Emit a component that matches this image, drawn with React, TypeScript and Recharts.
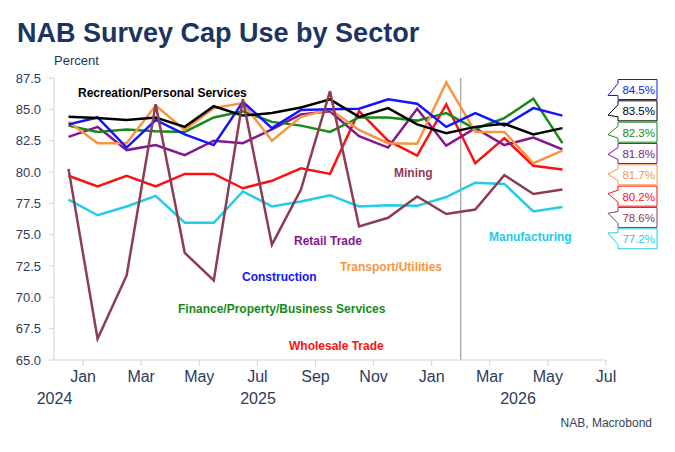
import React from 'react';
import { LineChart, Line, XAxis, YAxis, ReferenceLine } from 'recharts';

// monthly survey periods, plotted at mid-month
const periods = [
  '2024-12', '2025-01', '2025-02', '2025-03', '2025-04', '2025-05', '2025-06', '2025-07', '2025-08',
  '2025-09', '2025-10', '2025-11', '2025-12', '2026-01', '2026-02', '2026-03', '2026-04', '2026-05'
];

const recreation = [84.4, 84.3, 84.15, 84.35, 83.6, 85.25, 84.5, 84.7, 85.15, 85.8, 84.4, 85.1, 83.8, 83.1, 83.6, 83.85, 83.0, 83.5];
const construction = [83.8, 84.35, 81.95, 84.15, 83.0, 82.15, 85.6, 83.5, 84.95, 85.0, 85.05, 85.8, 85.45, 83.6, 84.7, 83.7, 85.1, 84.5];
const transport = [84.0, 82.3, 82.3, 85.3, 83.35, 85.1, 85.5, 82.5, 84.4, 85.0, 83.35, 82.3, 82.25, 87.15, 83.2, 83.2, 80.7, 81.7];
const finance = [83.7, 83.2, 83.4, 83.25, 83.2, 84.35, 84.85, 84.0, 83.7, 83.2, 84.35, 84.35, 84.1, 84.7, 83.45, 84.3, 85.85, 82.3];
const retail = [82.8, 83.6, 81.75, 82.15, 81.35, 82.5, 82.3, 83.4, 84.6, 84.85, 82.85, 81.95, 85.05, 82.1, 83.5, 82.15, 82.75, 81.8];
const wholesale = [79.7, 78.85, 79.7, 78.85, 79.85, 79.85, 78.7, 79.3, 80.3, 79.85, 84.85, 82.5, 81.3, 85.4, 80.7, 82.7, 80.5, 80.2];
const manufacturing = [77.8, 76.55, 77.25, 78.1, 75.95, 75.95, 78.45, 77.25, 77.65, 78.15, 77.25, 77.35, 77.3, 78.0, 79.15, 79.05, 76.85, 77.2];
const mining = [80.25, 66.7, 71.75, 85.4, 73.55, 71.35, 85.8, 74.2, 78.6, 86.45, 75.65, 76.35, 78.05, 76.65, 77.0, 79.75, 78.25, 78.6];

const xTicks = [1, 3, 5, 7, 9, 11, 13, 15, 17, 19];
const xTickLabels = ['Jan', 'Mar', 'May', 'Jul', 'Sep', 'Nov', 'Jan', 'Mar', 'May', 'Jul'];
const yTicks = [65, 67.5, 70, 72.5, 75, 77.5, 80, 82.5, 85, 87.5];

const FONT = '"Liberation Sans", Arial, sans-serif';
const NAVY = '#1c3461';

const series = [
  { key: 'manufacturing', name: 'Manufacturing', values: manufacturing, color: '#22cbe8', lx: 489, ly: 241 },
  { key: 'wholesale', name: 'Wholesale Trade', values: wholesale, color: '#ff1010', lx: 289, ly: 350 },
  { key: 'retail', name: 'Retail Trade', values: retail, color: '#85168f', lx: 294, ly: 245 },
  { key: 'finance', name: 'Finance/Property/Business Services', values: finance, color: '#178a17', lx: 178, ly: 313 },
  { key: 'transport', name: 'Transport/Utilities', values: transport, color: '#f7963f', lx: 340, ly: 271 },
  { key: 'construction', name: 'Construction', values: construction, color: '#1414ff', lx: 242, ly: 281 },
  { key: 'recreation', name: 'Recreation/Personal Services', values: recreation, color: '#000000', lx: 78, ly: 97 },
  { key: 'mining', name: 'Mining', values: mining, color: '#8c3c54', lx: 394, ly: 177 },
];

// month offset from the start of Dec 2024, mid-month
const toX = (p: string) => {
  const [y, m] = p.split('-').map(Number);
  return (y - 2024) * 12 + (m - 12) + 0.5;
};

const data = periods.map((p, i) => {
  const row: Record<string, number> = { x: toX(p) };
  series.forEach((s) => { row[s.key] = s.values[i]; });
  return row;
});

const lastTags = series
  .map((s) => ({ color: s.color, value: s.values[s.values.length - 1] }))
  .sort((a, b) => b.value - a.value);

const ValueTag = ({ top, color, value, idx }: { top: number; color: string; value: number; idx: number }) => {
  const left = 618;
  const right = 657;
  const h = 20;
  const tip = 16 - idx * 1.7;
  const d = `M${left},${top} L${right},${top} L${right},${top + h} L${left},${top + h} L${left},${top + 16} L${left - 10},${top + tip} L${left},${top + 4} Z`;
  return (
    <g>
      <path d={d} fill="#fff" stroke={color} strokeWidth={1} />
      <text x={right - 2} y={top + 14.5} textAnchor="end" fontSize={11.5} fill={color} fontFamily={FONT}>
        {value.toFixed(1)}%
      </text>
    </g>
  );
};

export default function App() {
  return (
    <div style={{ position: 'absolute', left: 0, top: 0, width: 675, height: 452, background: '#fff', fontFamily: FONT }}>
      <LineChart width={675} height={452} data={data} margin={{ top: 78, right: 69, bottom: 62, left: 10 }}>
        <XAxis
          dataKey="x"
          type="number"
          domain={[0, 19]}
          ticks={xTicks}
          tickFormatter={(v: number) => xTickLabels[xTicks.indexOf(v)]}
          height={30}
          axisLine={{ stroke: '#d2d2d2' }}
          tickLine={{ stroke: '#d2d2d2' }}
          tickSize={6}
          tickMargin={5}
          tick={{ fill: '#2d3b5c', fontSize: 16, fontFamily: FONT }}
          allowDataOverflow
        />
        <YAxis
          type="number"
          domain={[65, 87.5]}
          ticks={yTicks}
          tickFormatter={(v: number) => v.toFixed(1)}
          width={44}
          axisLine={{ stroke: '#d2d2d2' }}
          tickLine={{ stroke: '#d2d2d2' }}
          tickSize={5}
          tickMargin={8}
          tick={{ fill: '#2d3b5c', fontSize: 13, fontFamily: FONT }}
          allowDataOverflow
        />
        <ReferenceLine x={14} stroke="#8c8c8c" strokeWidth={1} ifOverflow="extendDomain" />
        {series.map((s) => (
          <Line
            key={s.key}
            dataKey={s.key}
            type="linear"
            stroke={s.color}
            strokeWidth={2.5}
            dot={false}
            activeDot={false}
            isAnimationActive={false}
          />
        ))}
      </LineChart>
      <svg width={675} height={452} style={{ position: 'absolute', left: 0, top: 0, pointerEvents: 'none' }}>
        <text x={17} y={42} fontSize={27} fontWeight="bold" fill={NAVY} fontFamily={FONT}>
          NAB Survey Cap Use by Sector
        </text>
        <text x={54} y={65} fontSize={13} fill={NAVY} fontFamily={FONT}>Percent</text>
        {series.map((s) => (
          <text key={s.key} x={s.lx} y={s.ly} fontSize={12} fontWeight="bold" fill={s.color} fontFamily={FONT}>
            {s.name}
          </text>
        ))}
        <text x={54.5} y={404} fontSize={16} textAnchor="middle" fill="#2d3b5c" fontFamily={FONT}>2024</text>
        <text x={258} y={404} fontSize={16} textAnchor="middle" fill="#2d3b5c" fontFamily={FONT}>2025</text>
        <text x={518} y={404} fontSize={16} textAnchor="middle" fill="#2d3b5c" fontFamily={FONT}>2026</text>
        <text x={652} y={427} fontSize={12} textAnchor="end" fill="#3a4256" fontFamily={FONT}>NAB, Macrobond</text>
        {lastTags.map((t, i) => (
          <ValueTag key={i} top={79.5 + i * 21.33} color={t.color} value={t.value} idx={i} />
        ))}
      </svg>
    </div>
  );
}
